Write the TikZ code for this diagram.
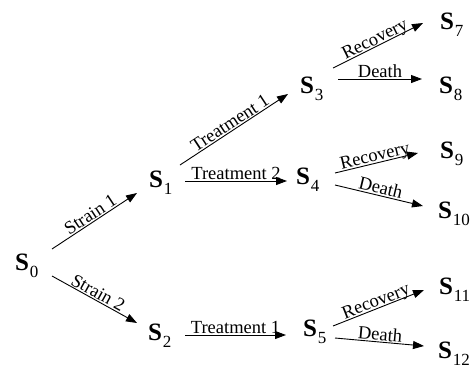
\documentclass[tikz,border=0pt]{standalone}
\usepackage{fontspec}
\setmainfont{Liberation Serif}
\usetikzlibrary{arrows.meta}
% state label: a large S with a lowered index that does not widen the node
\newcommand{\St}[1]{{\fontsize{25}{25}\selectfont\bfseries S}\rlap{\smash{\kern0.8pt\raisebox{-7pt}{\fontsize{17}{17}\selectfont #1}}}}
\tikzset{
  state/.style={inner sep=0pt, outer sep=0pt},
  arr/.style={line width=0.9pt, -{Triangle[length=11pt,width=8pt]}},
  lab/.style={midway, above, sloped, inner sep=1.2pt, text depth=0pt,
              font=\fontsize{18.5}{18.5}\selectfont}
}
\begin{document}
\begin{tikzpicture}[x=1pt,y=-1pt]
\useasboundingbox (0,0) rectangle (474,370);

% states
\node[state] (S0)  at (22,262)  {\St{0}};
\node[state] (S1)  at (156,179) {\St{1}};
\node[state] (S2)  at (155,332) {\St{2}};
\node[state] (S3)  at (307,85)  {\St{3}};
\node[state] (S4)  at (303,176) {\St{4}};
\node[state] (S5)  at (310,328) {\St{5}};
\node[state] (S7)  at (447,21)  {\St{7}};
\node[state] (S8)  at (446,85)  {\St{8}};
\node[state] (S9)  at (447,150) {\St{9}};
\node[state] (S10) at (445,210) {\St{10}};
\node[state] (S11) at (446,286) {\St{11}};
\node[state] (S12) at (445,350) {\St{12}};

% strains
\draw[arr] ([xshift=30pt,yshift=13pt]S0.center) -- ([xshift=-19pt,yshift=-14pt]S1.center) node[lab]{Strain 1};
\draw[arr] ([xshift=30pt,yshift=-14pt]S0.center) -- ([xshift=-18pt,yshift=9pt]S2.center) node[lab]{Strain 2};

% treatments
\draw[arr] ([xshift=24pt,yshift=14pt]S1.center) -- ([xshift=-19pt,yshift=-9pt]S3.center) node[lab]{Treatment 1};
\draw[arr] ([xshift=29pt,yshift=-2pt]S1.center) -- ([xshift=-16pt,yshift=-5pt]S4.center) node[lab]{Treatment 2};
\draw[arr] ([xshift=30pt,yshift=-3pt]S2.center) -- ([xshift=-24pt,yshift=-7pt]S5.center) node[lab]{Treatment 1};

% outcomes
\draw[arr] ([xshift=26pt,yshift=17pt]S3.center) -- ([xshift=-24pt,yshift=-2pt]S7.center) node[lab]{Recovery};
\draw[arr] ([xshift=31pt,yshift=6pt]S3.center) -- ([xshift=-24pt,yshift=6pt]S8.center) node[lab]{Death};
\draw[arr] ([xshift=32pt,yshift=3pt]S4.center) -- ([xshift=-29pt,yshift=-3pt]S9.center) node[lab]{Recovery};
\draw[arr] ([xshift=32pt,yshift=-9pt]S4.center) -- ([xshift=-22pt,yshift=4pt]S10.center) node[lab]{Death};
\draw[arr] ([xshift=23pt,yshift=2pt]S5.center) -- ([xshift=-22pt,yshift=-4pt]S11.center) node[lab]{Recovery};
\draw[arr] ([xshift=25pt,yshift=-10pt]S5.center) -- ([xshift=-21pt,yshift=4pt]S12.center) node[lab]{Death};
\end{tikzpicture}
\end{document}
